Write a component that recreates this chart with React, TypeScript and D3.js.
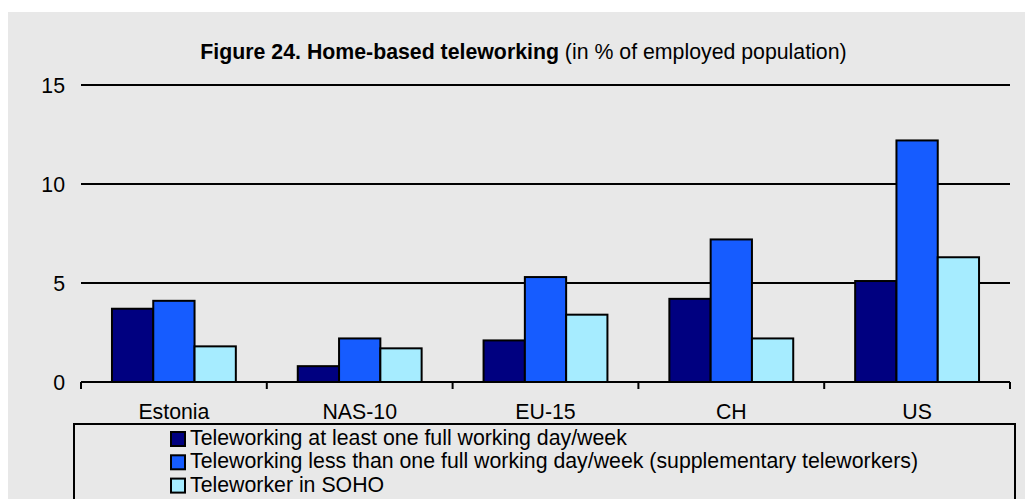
import React from "react";
import * as d3 from "d3";

const categories = ["Estonia", "NAS-10", "EU-15", "CH", "US"];
const seriesNames = [
  "Teleworking at least one full working day/week",
  "Teleworking less than one full working day/week (supplementary teleworkers)",
  "Teleworker in SOHO",
];
const fullDay = [3.7, 0.8, 2.1, 4.2, 5.1];
const lessThanFullDay = [4.1, 2.2, 5.3, 7.2, 12.2];
const soho = [1.8, 1.7, 3.4, 2.2, 6.3];
const yTicks = [0, 5, 10, 15];
const colors = ["#000080", "#165cff", "#a6ecff"];

const W = 1025;
const H = 499;
const FONT = "Arial, 'Liberation Sans', Helvetica, sans-serif";
const FS = 21.3;

export default function App() {
  const series = [fullDay, lessThanFullDay, soho];
  const x0 = d3.scaleBand<string>().domain(categories).range([81, 1010]).paddingInner(0).paddingOuter(0);
  const x1 = d3
    .scaleBand<number>()
    .domain([0, 1, 2])
    .range([0, x0.bandwidth()])
    .paddingInner(0)
    .paddingOuter(0.75);
  const y = d3.scaleLinear().domain([0, 15]).range([382, 85]);
  const boundaries = [...categories.map((c) => x0(c)!), 1010];

  return (
    <svg
      width={W}
      height={H}
      style={{ position: "absolute", left: 0, top: 0, display: "block" }}
      fontFamily={FONT}
    >
      <rect x={0} y={0} width={W} height={H} fill="#ffffff" />
      <rect x={8} y={12} width={W - 8} height={H - 12} fill="#e8e8e8" />
      <text x={523.5} y={59} textAnchor="middle" fontSize={FS} fill="#000">
        <tspan fontWeight="bold">Figure 24. Home-based teleworking</tspan>
        <tspan> (in % of employed population)</tspan>
      </text>
      {yTicks.map((t) => (
        <g key={t}>
          {t > 0 && (
            <line x1={81} x2={1010} y1={y(t)} y2={y(t)} stroke="#000" strokeWidth={2.2} />
          )}
          <text x={65} y={y(t)} dy="0.36em" textAnchor="end" fontSize={FS} fill="#000">
            {t}
          </text>
        </g>
      ))}
      {categories.map((c, ci) => (
        <g key={c}>
          {series.map((s, si) => (
            <rect
              key={si}
              x={x0(c)! + x1(si)!}
              y={y(s[ci])}
              width={x1.bandwidth()}
              height={y(0) - y(s[ci])}
              fill={colors[si]}
              stroke="#000"
              strokeWidth={2}
            />
          ))}
          <text
            x={x0(c)! + x0.bandwidth() / 2}
            y={419}
            textAnchor="middle"
            fontSize={FS}
            fill="#000"
          >
            {c}
          </text>
        </g>
      ))}
      <line x1={81} x2={1010} y1={y(0)} y2={y(0)} stroke="#000" strokeWidth={2.2} />
      {boundaries.map((b, i) => (
        <line key={i} x1={b} x2={b} y1={y(0)} y2={y(0) + 7} stroke="#000" strokeWidth={2} />
      ))}
      <rect x={74} y={424} width={941} height={100} fill="none" stroke="#000" strokeWidth={2} />
      {seriesNames.map((n, i) => (
        <g key={n}>
          <rect
            x={171}
            y={432 + i * 23.3}
            width={14}
            height={14}
            fill={colors[i]}
            stroke="#000"
            strokeWidth={2}
          />
          <text x={190} y={445 + i * 23.3} fontSize={FS} fill="#000">
            {n}
          </text>
        </g>
      ))}
    </svg>
  );
}
